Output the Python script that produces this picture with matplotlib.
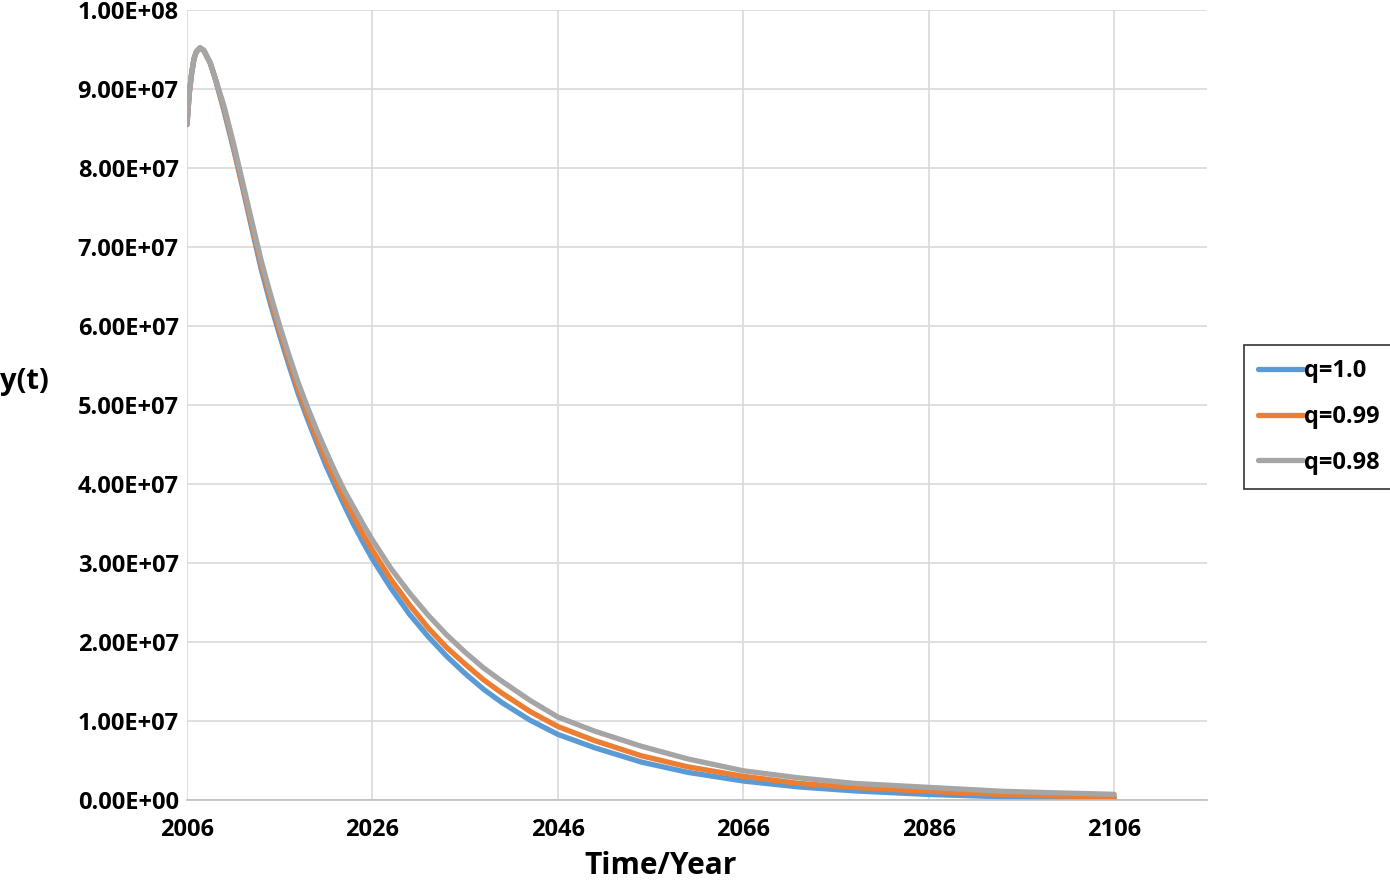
import numpy as np
import matplotlib
matplotlib.use("Agg")
import matplotlib.pyplot as plt
from matplotlib.ticker import FuncFormatter

plt.rcParams["font.family"] = ["Open Sans", "DejaVu Sans"]
plt.rcParams["font.weight"] = "bold"

# values (y in units of 1e7)
years = [2006, 2006.25, 2006.5, 2006.75, 2007, 2007.4, 2007.8, 2008.5, 2009,
         2010, 2011, 2012, 2013, 2014, 2015, 2016, 2017, 2018, 2019,
         2020, 2021, 2022, 2023, 2024, 2025, 2026, 2028, 2030, 2032,
         2034, 2036, 2038, 2040, 2043, 2046, 2050, 2055, 2060, 2066,
         2072, 2078, 2086, 2094, 2100, 2106]

y_q100 = [8.55, 8.95, 9.2, 9.38, 9.47, 9.52, 9.49, 9.33, 9.15,
          8.72, 8.25, 7.75, 7.23, 6.72, 6.28, 5.88, 5.5, 5.14, 4.82,
          4.52, 4.23, 3.97, 3.72, 3.48, 3.26, 3.05, 2.68, 2.35, 2.07,
          1.82, 1.6, 1.4, 1.23, 1.01, 0.83, 0.66, 0.48, 0.35, 0.24,
          0.165, 0.115, 0.07, 0.04, 0.03, 0.02]

y_q099 = [8.55, 8.95, 9.2, 9.38, 9.47, 9.52, 9.49, 9.33, 9.15,
          8.75, 8.28, 7.78, 7.27, 6.77, 6.34, 5.93, 5.56, 5.2, 4.88,
          4.58, 4.3, 4.05, 3.8, 3.58, 3.36, 3.16, 2.79, 2.47, 2.18,
          1.93, 1.72, 1.52, 1.35, 1.12, 0.93, 0.75, 0.56, 0.42, 0.30,
          0.21, 0.16, 0.11, 0.07, 0.05, 0.04]

y_q098 = [8.55, 8.95, 9.2, 9.38, 9.47, 9.52, 9.49, 9.33, 9.15,
          8.78, 8.32, 7.82, 7.32, 6.83, 6.4, 6.0, 5.63, 5.28, 4.97,
          4.68, 4.41, 4.15, 3.91, 3.70, 3.49, 3.29, 2.93, 2.62, 2.34,
          2.09, 1.87, 1.67, 1.5, 1.26, 1.05, 0.87, 0.68, 0.52, 0.37,
          0.28, 0.21, 0.16, 0.11, 0.09, 0.072]

labels = ["q=1.0", "q=0.99", "q=0.98"]
colors = ["#5B9BD5", "#ED7D31", "#A5A5A5"]

x_ticks = [2006, 2026, 2046, 2066, 2086, 2106]
y_ticks = np.arange(0, 1.01e8, 1e7)

fig = plt.figure(figsize=(13.9, 8.83), dpi=100)
ax = fig.add_axes([187 / 1390, 1 - 800 / 883, (1207 - 187) / 1390, (800 - 10) / 883])

for ys, lab, col in zip([y_q100, y_q099, y_q098], labels, colors):
    ax.plot(years, np.array(ys) * 1e7, color=col, lw=3.8, label=lab,
            solid_capstyle="round", solid_joinstyle="round")

ax.set_xlim(2006, 2116)
ax.set_ylim(0, 1e8)
ax.set_xticks(x_ticks)
ax.set_yticks(y_ticks)
ax.yaxis.set_major_formatter(FuncFormatter(lambda v, p: "%.2E" % v))
ax.grid(True, color="#d9d9d9", lw=1.2)
ax.set_axisbelow(True)
for s in ["top", "right", "left"]:
    ax.spines[s].set_visible(False)
ax.spines["bottom"].set_color("#bfbfbf")
ax.spines["bottom"].set_linewidth(1.2)
ax.tick_params(length=0, labelsize=17)
ax.tick_params(axis="y", pad=6)
ax.tick_params(axis="x", pad=13)
for t in ax.get_xticklabels() + ax.get_yticklabels():
    t.set_fontweight("bold")

fig.text(0.0, 1 - 382 / 883, "y(t)", fontsize=21, fontweight="bold",
         ha="left", va="center")
fig.text(661 / 1390, 1 - 866 / 883, "Time/Year", fontsize=21.5,
         fontweight="bold", ha="center", va="center")

leg = fig.legend(loc="upper left", bbox_to_anchor=(1244 / 1390, 1 - 345 / 883),
                 fontsize=17, frameon=True, fancybox=False, handlelength=1.9,
                 handletextpad=0.05, labelspacing=0.92, borderpad=0.6,
                 borderaxespad=0)
leg.get_frame().set_edgecolor("black")
leg.get_frame().set_linewidth(1.2)
for t in leg.get_texts():
    t.set_fontweight("bold")

fig.savefig("out.png", dpi=100)
